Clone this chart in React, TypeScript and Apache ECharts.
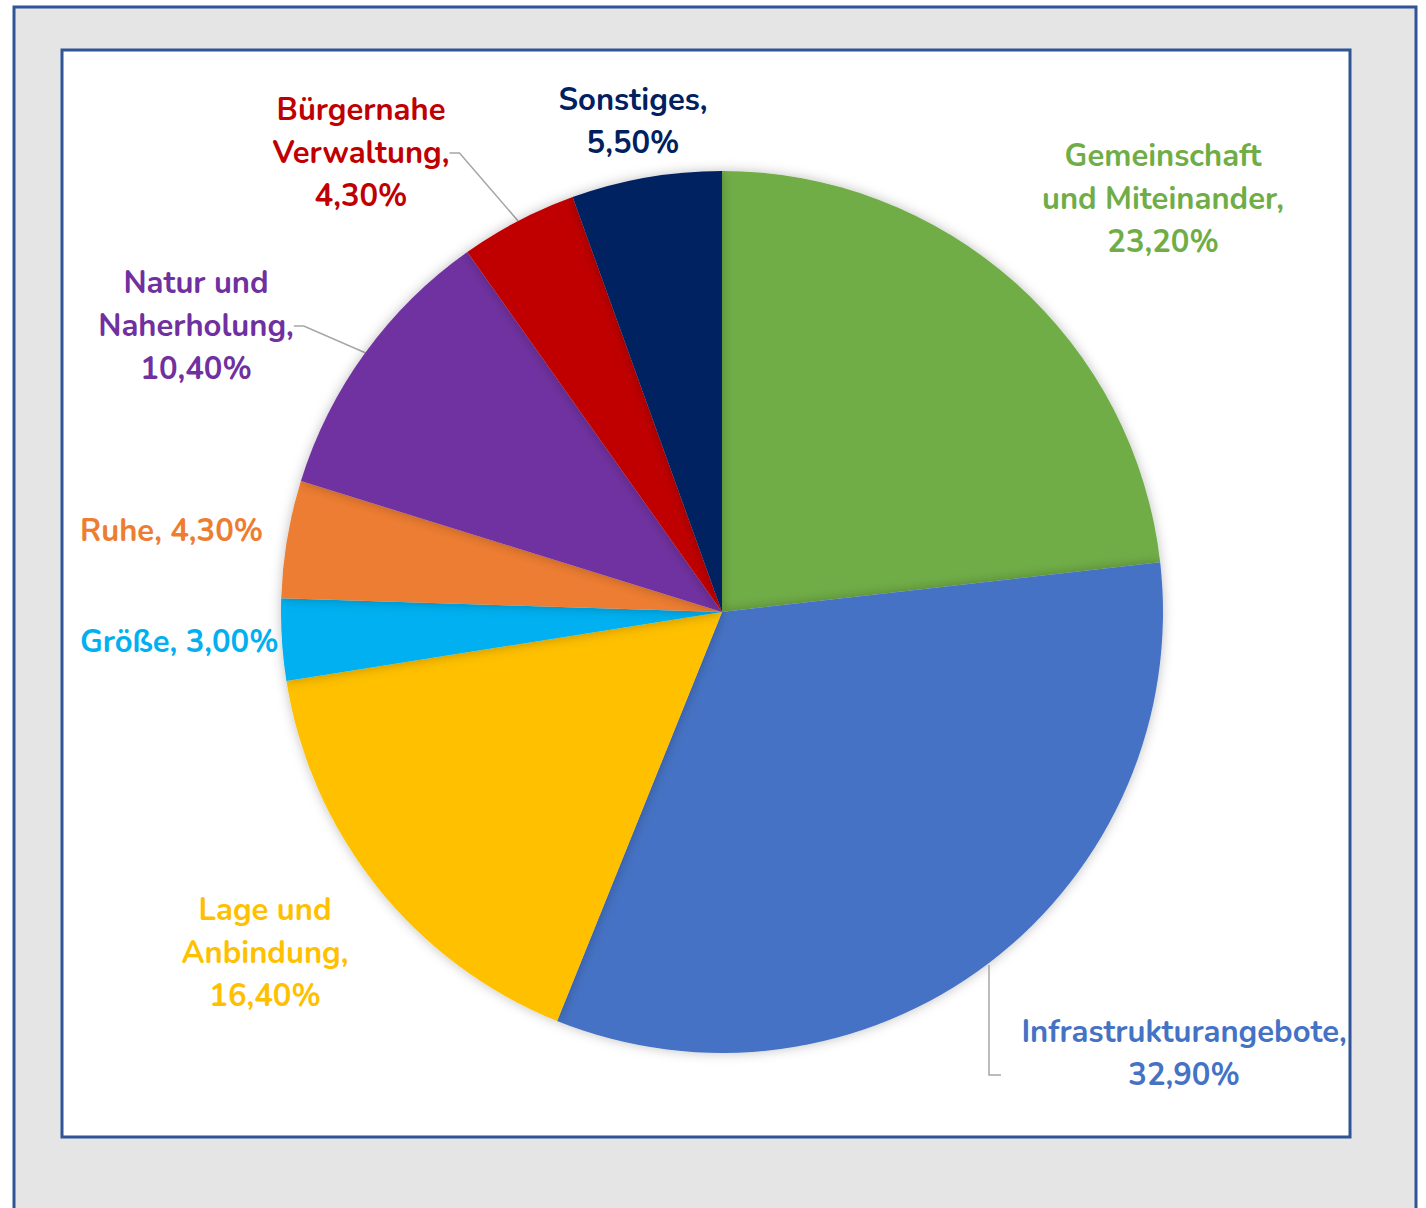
import React, { useEffect, useRef } from "react";
import * as echarts from "echarts";

const categories = [
  "Gemeinschaft\nund Miteinander",
  "Infrastrukturangebote",
  "Lage und\nAnbindung",
  "Größe",
  "Ruhe",
  "Natur und\nNaherholung",
  "Bürgernahe\nVerwaltung",
  "Sonstiges",
];
const values = [23.2, 32.9, 16.4, 3.0, 4.3, 10.4, 4.3, 5.5];
const colors = ["#70AD47", "#4472C4", "#FFC000", "#00B0F0", "#ED7D31", "#7030A0", "#C00000", "#002060"];
// label text "name, value" on one line for these
const singleLine = [false, false, false, true, true, false, false, false];
const showGuide = [false, false, false, false, false, true, true, false];
// label anchor positions (layout)
const labelPos: [number, number, string][] = [
  [1163, 199, "center"],
  [1184, 1053, "center"],
  [265, 953, "center"],
  [80, 642, "left"],
  [80, 531, "left"],
  [196, 326, "center"],
  [361, 153, "center"],
  [633, 121, "center"],
];

const CX = 722;
const CY = 612;
const R = 441;

const fmt = (v: number) => v.toFixed(2).replace(".", ",") + "%";

export default function App() {
  const ref = useRef<HTMLDivElement>(null);
  useEffect(() => {
    const chart = echarts.init(ref.current!, null, { renderer: "svg" });
    const data = categories.map((c, i) => ({
      name: c,
      value: values[i],
      itemStyle: { color: colors[i] },
      label: { color: colors[i] },
      labelLine: { show: showGuide[i] },
    }));
    // elbow guide for the Infrastruktur slice, anchored at its mid-angle
    const total = values.reduce((a, b) => a + b, 0);
    const before = values[0];
    const midDeg = 90 - ((before + values[1] / 2) / total) * 360;
    const ax = CX + R * Math.cos((midDeg * Math.PI) / 180);
    const ay = CY - R * Math.sin((midDeg * Math.PI) / 180);
    chart.setOption({
      animation: false,
      graphic: [
        {
          type: "rect",
          shape: { x: 14, y: 7, width: 1402, height: 1230 },
          style: { fill: "#E5E5E5", stroke: "#2F5597", lineWidth: 3 },
          z: -10,
        },
        {
          type: "rect",
          shape: { x: 62, y: 50, width: 1288, height: 1087 },
          style: { fill: "#FFFFFF", stroke: "#2F5597", lineWidth: 3 },
          z: -9,
        },
        {
          type: "polyline",
          shape: { points: [[ax, ay + 2], [ax, 1075], [ax + 12, 1075]] },
          style: { stroke: "#A6A6A6", lineWidth: 1.5, fill: null },
          z: 10,
        },
      ],
      series: [
        {
          type: "pie",
          center: [CX, CY],
          radius: R,
          startAngle: 90,
          clockwise: true,
          data,
          itemStyle: {
            borderWidth: 0,
            shadowBlur: 12,
            shadowColor: "rgba(0,0,0,0.25)",
          },
          emphasis: { disabled: true },
          label: {
            show: true,
            position: "outside",
            fontFamily: "Nunito, 'Open Sans', sans-serif",
            fontWeight: "bold",
            fontSize: 31,
            lineHeight: 43,
            formatter: (p: any) =>
              singleLine[p.dataIndex]
                ? p.name + ", " + fmt(p.value)
                : p.name + ",\n" + fmt(p.value),
          },
          labelLine: {
            show: false,
            lineStyle: { color: "#A6A6A6", width: 1.5 },
            length: 20,
            length2: 10,
          },
          labelLayout: (params: any) => {
            const [x, y, align] = labelPos[params.dataIndex];
            return { x, y, align, verticalAlign: "middle" };
          },
        },
      ],
    });
    return () => chart.dispose();
  }, []);
  return (
    <div
      ref={ref}
      style={{ position: "absolute", left: 0, top: 0, width: 1426, height: 1208 }}
    />
  );
}
